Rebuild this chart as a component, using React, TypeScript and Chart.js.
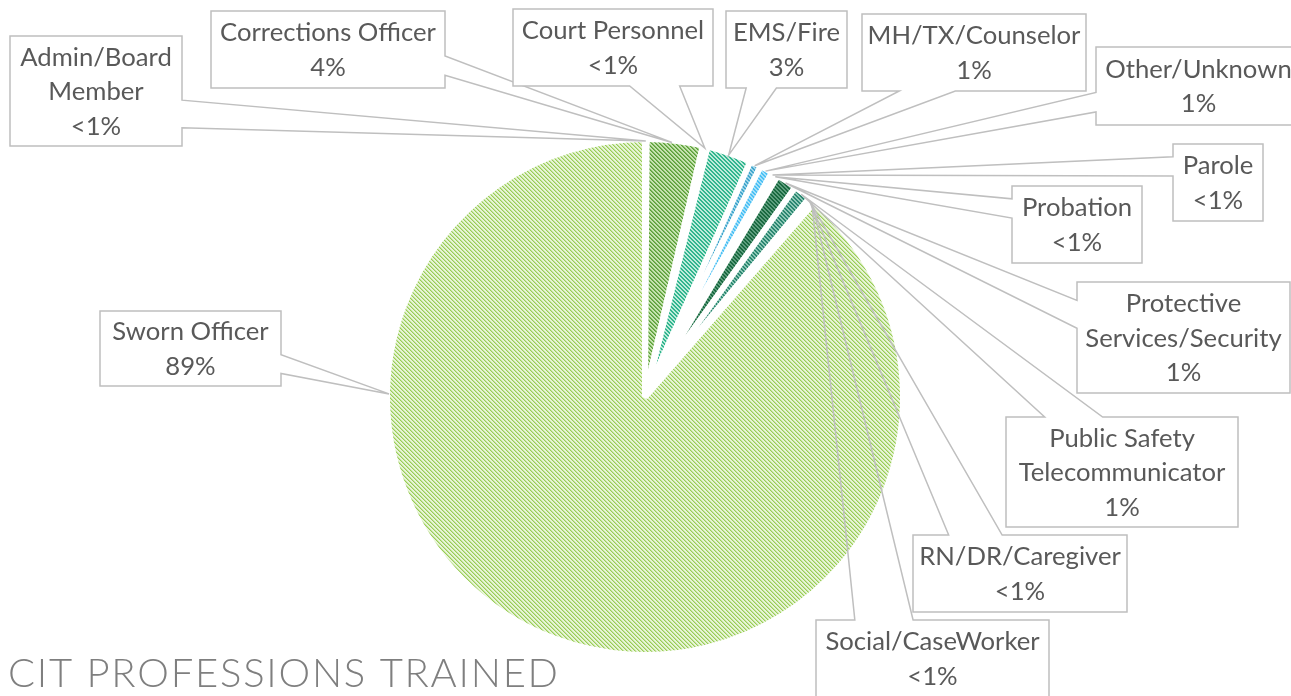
import React, { useEffect, useRef } from "react";
import { Chart, registerables } from "chart.js";

Chart.register(...registerables);

// ---------- data ----------
const categories: string[] = [
  "Admin/Board Member",
  "Corrections Officer",
  "Court Personnel",
  "EMS/Fire",
  "MH/TX/Counselor",
  "Other/Unknown",
  "Parole",
  "Probation",
  "Protective Services/Security",
  "Public Safety Telecommunicator",
  "RN/DR/Caregiver",
  "Social/CaseWorker",
  "Sworn Officer",
];

const percentages: number[] = [0.1, 3.5, 0.3, 2.8, 0.7, 0.8, 0.2, 0.2, 1.3, 1.1, 0.2, 0.2, 88.6];

const percentLabels: string[] = percentages.map((v) =>
  Math.round(v) < 1 ? "<1%" : `${Math.round(v)}%`
);

const chartTitle = "CIT PROFESSIONS TRAINED";

// ---------- styles ----------
const stripeColors: string[] = [
  "#6AAE3F", "#5A9E38", "#9FDCC8", "#31B58E", "#41A6CC", "#4CC0F4", "#2E7FA5",
  "#2F8A6A", "#19683F", "#2A8670", "#3C9A7E", "#7CC24A", "#98CD55",
];
const midColors: string[] = [
  "#6AAE3F", "#7DB85C", "#9FDCC8", "#31B58E", "#41A6CC", "#4CC0F4", "#2E7FA5",
  "#2F8A6A", "#19683F", "#2A8670", "#3C9A7E", "#7CC24A", "#C4E39C",
];
const baseColors: string[] = [
  "#CDE5B8", "#C6E2B0", "#E3F5EF", "#BDEBDB", "#9FD6EA", "#A6E1FA", "#8FC3DA",
  "#8CC6B0", "#5E9E7E", "#8EC8B6", "#A3D6C5", "#CFE8BA", "#E8F4D8",
];

// callout boxes: x, y, width, height, anchor fraction along the slice arc
const calloutBoxes: number[][] = [
  [10, 36, 172, 110, 0.5],
  [211, 11, 234, 77, 0.45],
  [513, 9, 200, 77, 0.5],
  [726, 11, 121, 77, 0.5],
  [862, 14, 224, 77, 0.5],
  [1096, 47, 205, 78, 0.5],
  [1173, 144, 90, 77, 0.5],
  [1012, 186, 130, 77, 0.5],
  [1077, 282, 213, 111, 0.5],
  [1006, 417, 232, 110, 0.5],
  [913, 535, 214, 77, 0.5],
  [816, 620, 233, 77, 0.5],
  [100, 311, 181, 75, 0.72],
];

function hatch(fg: string, mid: string, bg: string): CanvasPattern | string {
  const c = document.createElement("canvas");
  c.width = 4;
  c.height = 4;
  const g = c.getContext("2d");
  if (!g) return bg;
  g.fillStyle = bg;
  g.fillRect(0, 0, 4, 4);
  for (let y = 0; y < 4; y++) {
    for (let x = 0; x < 4; x++) {
      const m = (((x - y) % 4) + 4) % 4;
      if (m === 0) {
        g.fillStyle = fg;
        g.fillRect(x, y, 1, 1);
      } else if (m === 1) {
        g.fillStyle = mid;
        g.fillRect(x, y, 1, 1);
      }
    }
  }
  const p = g.createPattern(c, "repeat");
  return p || bg;
}

function wrapText(ctx: CanvasRenderingContext2D, text: string, maxW: number): string[] {
  const words = text.split(" ");
  const lines: string[] = [];
  let cur = "";
  for (const w of words) {
    const test = cur ? cur + " " + w : w;
    if (cur && ctx.measureText(test).width > maxW) {
      lines.push(cur);
      cur = w;
    } else {
      cur = test;
    }
  }
  if (cur) lines.push(cur);
  return lines;
}

const LABEL_FONT = "Lato, 'Open Sans', 'Noto Sans', sans-serif";

const calloutPlugin = {
  id: "callouts",
  afterDatasetsDraw(chart: any) {
    const ctx: CanvasRenderingContext2D = chart.ctx;
    const meta = chart.getDatasetMeta(0);
    ctx.save();
    ctx.font = `100px ${LABEL_FONT}`;
    const ref = ctx.measureText("Corrections Officer").width;
    const fs = (100 * 216) / ref;
    ctx.font = `${fs}px ${LABEL_FONT}`;
    const lineH = 34.5;
    const capH = fs * 0.72;

    meta.data.forEach((arc: any, i: number) => {
      const p = arc.getProps(["x", "y", "startAngle", "endAngle", "outerRadius"], true);
      const [bx, by, bw, bh, af] = calloutBoxes[i];
      const a = p.startAngle + (p.endAngle - p.startAngle) * af;
      const r = p.outerRadius - 2;
      const tx = p.x + r * Math.cos(a);
      const ty = p.y + r * Math.sin(a);
      const cx = bx + bw / 2;
      const cy = by + bh / 2;
      const dx = (tx - cx) / bw;
      const dy = (ty - cy) / bh;
      let pts: number[][];
      if (Math.abs(dx) > Math.abs(dy)) {
        const f = ty < cy ? [2 / 12, 5 / 12] : [7 / 12, 10 / 12];
        const y1 = by + bh * f[0];
        const y2 = by + bh * f[1];
        if (dx < 0) {
          pts = [[bx, by], [bx + bw, by], [bx + bw, by + bh], [bx, by + bh], [bx, y2], [tx, ty], [bx, y1]];
        } else {
          pts = [[bx, by], [bx + bw, by], [bx + bw, y1], [tx, ty], [bx + bw, y2], [bx + bw, by + bh], [bx, by + bh]];
        }
      } else {
        const f = tx < cx ? [2 / 12, 5 / 12] : [7 / 12, 10 / 12];
        const x1 = bx + bw * f[0];
        const x2 = bx + bw * f[1];
        if (dy < 0) {
          pts = [[bx, by], [x1, by], [tx, ty], [x2, by], [bx + bw, by], [bx + bw, by + bh], [bx, by + bh]];
        } else {
          pts = [[bx, by], [bx + bw, by], [bx + bw, by + bh], [x2, by + bh], [tx, ty], [x1, by + bh], [bx, by + bh]];
        }
      }
      ctx.fillStyle = "#ffffff";
      ctx.fillRect(bx, by, bw, bh);
      ctx.beginPath();
      pts.forEach((pt, k) => (k === 0 ? ctx.moveTo(pt[0], pt[1]) : ctx.lineTo(pt[0], pt[1])));
      ctx.closePath();
      ctx.strokeStyle = "#BFBFBF";
      ctx.lineWidth = 1.5;
      ctx.lineJoin = "miter";
      ctx.stroke();

      const lines = [...wrapText(ctx, categories[i], bw), percentLabels[i]];
      ctx.fillStyle = "#595959";
      ctx.textAlign = "center";
      ctx.textBaseline = "alphabetic";
      const n = lines.length;
      lines.forEach((ln, k) => {
        const center = cy + (k - (n - 1) / 2) * lineH;
        ctx.fillText(ln, cx, center + capH / 2);
      });
    });

    // title
    ctx.font = `300 40px Lato, 'Open Sans', sans-serif`;
    ctx.fillStyle = "#7F7F7F";
    ctx.textAlign = "left";
    ctx.textBaseline = "alphabetic";
    const chars = chartTitle.split("");
    const widths = chars.map((c) => ctx.measureText(c).width);
    const total = widths.reduce((s, w) => s + w, 0);
    const targetW = 550;
    const extra = (targetW - total) / (chars.length - 1);
    let xPos = 8;
    chars.forEach((c, k) => {
      ctx.fillText(c, xPos, 687);
      xPos += widths[k] + extra;
    });
    ctx.restore();
  },
};

export default function App() {
  const canvasRef = useRef<HTMLCanvasElement | null>(null);

  useEffect(() => {
    const canvas = canvasRef.current;
    if (!canvas) return;
    const patterns = percentages.map((_, i) => hatch(stripeColors[i], midColors[i], baseColors[i]));
    const chart = new Chart(canvas, {
      type: "pie",
      data: {
        labels: categories,
        datasets: [
          {
            data: percentages,
            backgroundColor: patterns as any,
            borderColor: "#ffffff",
            borderWidth: 6,
          },
        ],
      },
      options: {
        animation: false,
        responsive: false,
        events: [],
        radius: 258,
        layout: { padding: { left: 390, right: 391, top: 142, bottom: 44 } },
        plugins: {
          legend: { display: false },
          tooltip: { enabled: false },
          title: { display: false },
        },
      } as any,
      plugins: [calloutPlugin],
    });
    let alive = true;
    if ((document as any).fonts && (document as any).fonts.load) {
      Promise.all([
        (document as any).fonts.load("24px Lato"),
        (document as any).fonts.load("300 40px Lato"),
      ]).then(() => {
        if (alive) chart.draw();
      }).catch(() => {});
    }
    return () => {
      alive = false;
      chart.destroy();
    };
  }, []);

  return (
    <div style={{ position: "absolute", left: 0, top: 0, width: 1291, height: 696, background: "#ffffff" }}>
      <canvas ref={canvasRef} width={1291} height={696} style={{ display: "block", width: 1291, height: 696 }} />
    </div>
  );
}
